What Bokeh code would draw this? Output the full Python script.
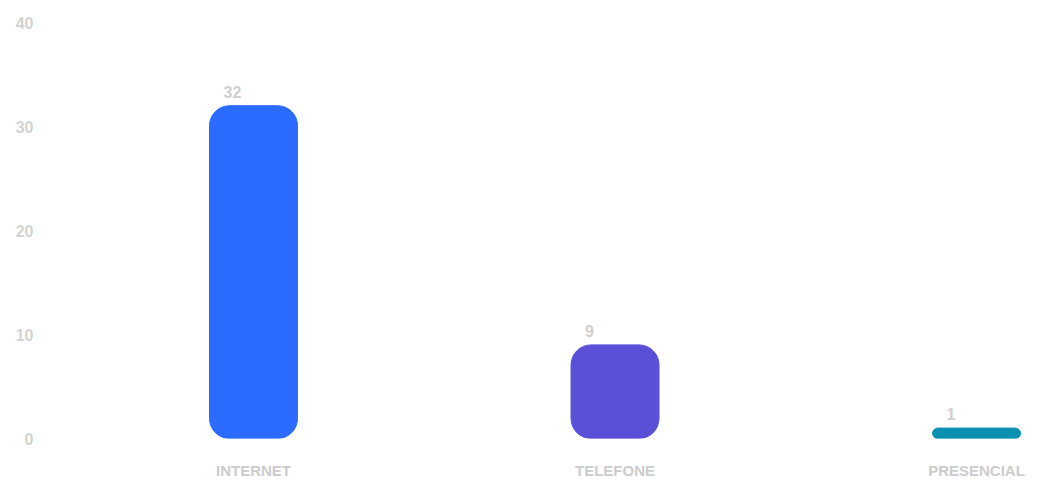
from bokeh.plotting import figure
from bokeh.models import ColumnDataSource, Range1d, FixedTicker
from bokeh.core.properties import value
from bokeh.embed import file_html
from bokeh.resources import INLINE

categories = ["INTERNET", "TELEFONE", "PRESENCIAL"]
counts = [32, 9, 1]
colors = ["#2b6bff", "#5a50d8", "#0b90b2"]
y_ticks = [0, 10, 20, 30, 40]

xs = list(range(len(categories)))
src = ColumnDataSource(dict(x=xs, top=counts, color=colors,
                            label=[str(c) for c in counts]))

p = figure(width=1044, height=481, output_backend="svg", toolbar_location=None,
           x_range=Range1d(-0.5754, 2.188), y_range=Range1d(0, 40),
           min_border_left=45, min_border_right=0, min_border_top=22,
           min_border_bottom=42)
p.outline_line_color = None
p.xgrid.visible = False
p.ygrid.visible = False
p.background_fill_color = "white"
p.border_fill_color = "white"

p.vbar(x="x", top="top", bottom=0, width=0.2434, color="color", source=src,
       border_radius=20)
p.text(x="x", y="top", text="label", source=src, x_offset=-30, y_offset=-8,
       text_align="left", text_baseline="bottom", text_color="#cfcfcf",
       text_font=value("Liberation Sans"), text_font_style="bold",
       text_font_size="16px")

xa = p.xaxis[0]
xa.ticker = FixedTicker(ticks=xs)
xa.major_label_overrides = {i: c for i, c in enumerate(categories)}
xa.axis_line_color = None
xa.major_tick_line_color = None
xa.minor_tick_line_color = None
xa.major_tick_out = 0
xa.major_tick_in = 0
xa.major_label_standoff = 23
xa.major_label_text_font = "Liberation Sans"
xa.major_label_text_font_style = "bold"
xa.major_label_text_font_size = "15px"
xa.major_label_text_color = "#cccccc"

ya = p.yaxis[0]
ya.ticker = FixedTicker(ticks=y_ticks)
ya.axis_line_color = None
ya.major_tick_line_color = None
ya.minor_tick_line_color = None
ya.major_tick_out = 0
ya.major_tick_in = 0
ya.major_label_standoff = 12
ya.major_label_text_font = "Liberation Sans"
ya.major_label_text_font_style = "bold"
ya.major_label_text_font_size = "16px"
ya.major_label_text_color = "#d3d3d3"

open("out.html", "w").write(file_html(p, INLINE))
